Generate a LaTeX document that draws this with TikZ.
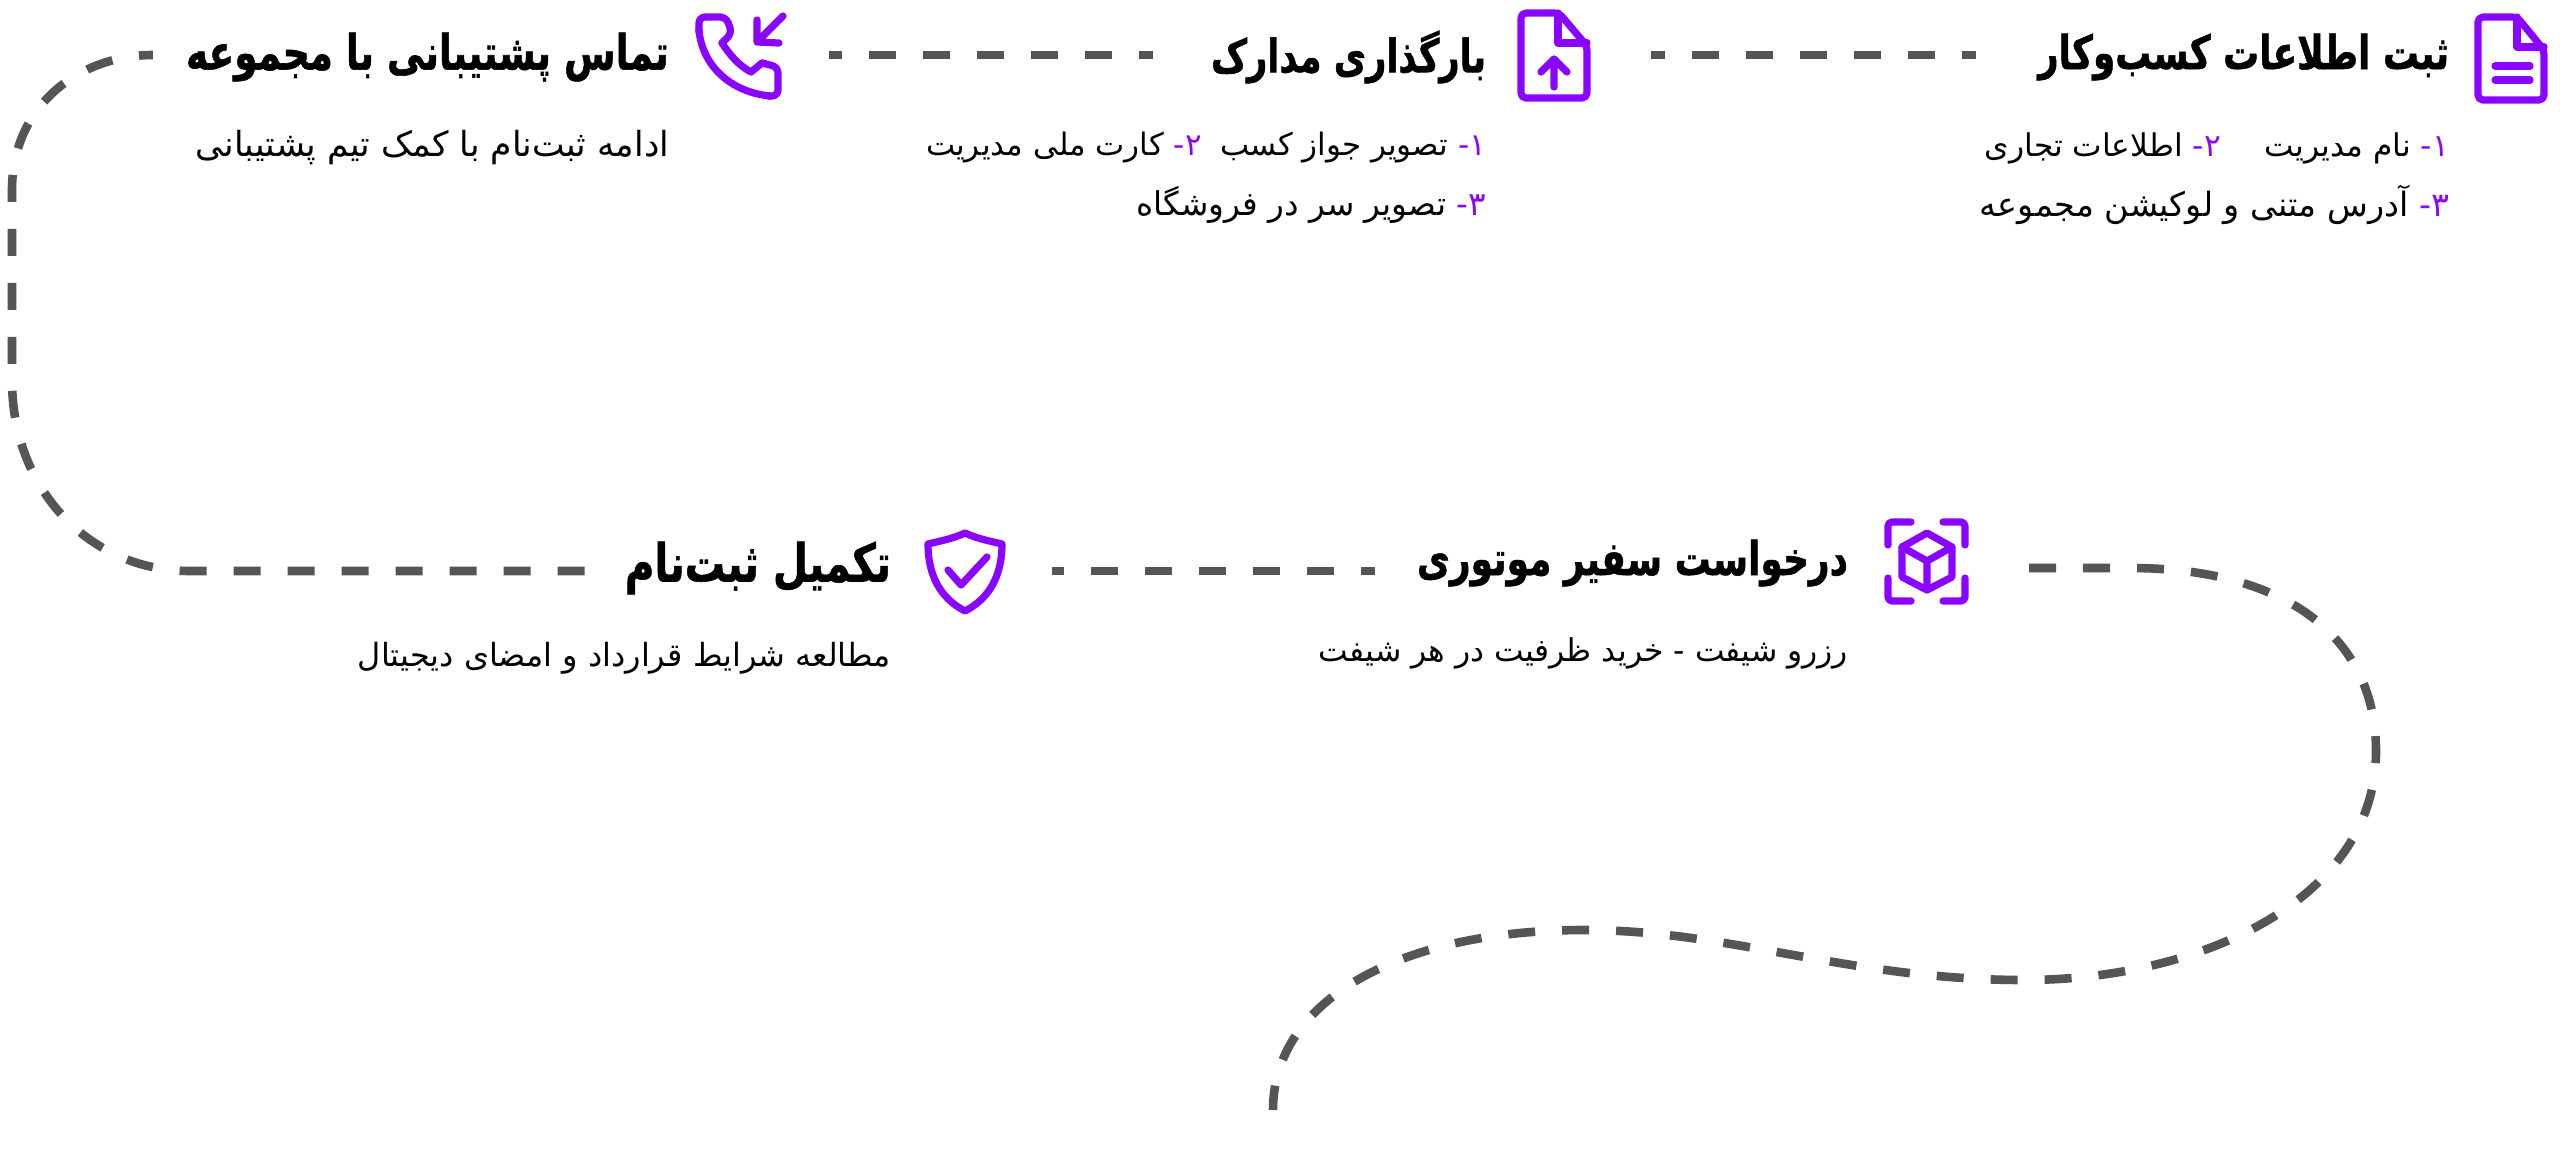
\documentclass[tikz,border=0pt]{standalone}
\usepackage{fontspec}
\usepackage{graphicx}
\setmainfont{DejaVu Sans}
\newfontfamily\fareg[Script=Arabic]{DejaVu Sans}
\newfontfamily\fabold[Script=Arabic,FakeBold=1.2]{DejaVu Sans Bold}
\TeXXeTstate=1
\definecolor{vio}{HTML}{8A05FF}
\definecolor{dashgrey}{HTML}{555555}
% inside \beginR ... \endR the node order is reversed, so the colour specials are written swapped
\newcommand{\vionum}[1]{\special{color pop}#1\special{color push rgb 0.541 0.02 1}}
\tikzset{
  steptext/.style={anchor=east,inner sep=0pt,outer sep=0pt,text=black},
  iconspot/.style={inner sep=0pt,outer sep=0pt,minimum width=#1,minimum height=45pt},
  dashline/.style={draw=dashgrey,line width=4.3pt,dash pattern=on 13.5pt off 13.5pt},
  shortstart/.style={dash phase=6.5pt},
  iconline/.style={draw=vio,line width=3.6pt,line cap=round,line join=round}
}
\begin{document}
\begin{tikzpicture}[x=0.5pt,y=-0.5pt]
\useasboundingbox (0,0) rectangle (2560,1158);
\fill[white] (0,0) rectangle (2560,1158);
% titles and sublines
\node[steptext] (t1) at (2449,57) {\resizebox{205.5pt}{!}{\scalebox{1}[1.3]{\fabold\beginR ثبت اطلاعات کسب‌وکار\endR}}};
\node[steptext] (s1a) at (2449,148) {\resizebox{232pt}{!}{\fareg\beginR\vionum{۱-} نام مدیریت\hspace{1.4em}\vionum{۲-} اطلاعات تجاری\endR}};
\node[steptext] (s1b) at (2449,205) {\resizebox{234.5pt}{!}{\fareg\beginR\vionum{۳-} آدرس متنی و لوکیشن مجموعه\endR}};
\node[steptext] (t2) at (1486,57) {\resizebox{137.5pt}{!}{\scalebox{1}[1.3]{\fabold\beginR بارگذاری مدارک\endR}}};
\node[steptext] (s2a) at (1486,148) {\resizebox{280pt}{!}{\fareg\beginR\vionum{۱-} تصویر جواز کسب\hspace{0.6em}\vionum{۲-} کارت ملی مدیریت\endR}};
\node[steptext] (s2b) at (1486,205) {\resizebox{175pt}{!}{\fareg\beginR\vionum{۳-} تصویر سر در فروشگاه\endR}};
\node[steptext] (t3) at (669,57) {\resizebox{241.5pt}{!}{\scalebox{1}[1.3]{\fabold\beginR تماس پشتیبانی با مجموعه\endR}}};
\node[steptext] (s3) at (669,148) {\resizebox{236.5pt}{!}{\fareg\beginR ادامه ثبت‌نام با کمک تیم پشتیبانی\endR}};
\node[steptext] (t4) at (1848,563) {\resizebox{215.5pt}{!}{\scalebox{1}[1.3]{\fabold\beginR درخواست سفیر موتوری\endR}}};
\node[steptext] (s4) at (1848,653) {\resizebox{264.5pt}{!}{\fareg\beginR رزرو شیفت - خرید ظرفیت در هر شیفت\endR}};
\node[steptext] (t5) at (891,568) {\resizebox{133pt}{!}{\scalebox{1}[1.3]{\fabold\beginR تکمیل ثبت‌نام\endR}}};
\node[steptext] (s5) at (891,658) {\resizebox{266.5pt}{!}{\fareg\beginR مطالعه شرایط قرارداد و امضای دیجیتال\endR}};
% icon anchors
\node[iconspot=36pt] (ic1) at (2511,55) {};
\node[iconspot=36pt] (ic2) at (1554,55) {};
\node[iconspot=44pt] (ic3) at (741,55) {};
\node[iconspot=42pt] (ic4) at (1927,562) {};
\node[iconspot=42pt] (ic5) at (965,571) {};
% document icon
\draw[iconline,rounded corners=2.5pt] (2517,17) -- (2478,17) -- (2478,100) -- (2544,100) -- (2544,50) -- cycle;
\draw[iconline] (2517,17) -- (2517,47) -- (2544,47);
\draw[iconline] (2495,66) -- (2530,66) (2495,80) -- (2530,80);
% upload icon
\draw[iconline,rounded corners=2.5pt] (1559,13) -- (1521,13) -- (1521,98) -- (1587,98) -- (1587,46) -- cycle;
\draw[iconline] (1558,13) -- (1558,43) -- (1587,43);
\draw[iconline] (1554,87) -- (1554,60) (1541,72) -- (1554,59) -- (1567,72);
% phone icon
\draw[iconline,rounded corners=3pt] (699,32) -- (699,17) -- (726,17) -- (732,33) -- (722,43);
\draw[iconline] (722,43) .. controls (730,55) and (738,65) .. (751,72) -- (762,63);
\draw[iconline,rounded corners=3pt] (762,63) -- (778,67) -- (778,96) -- (768,96);
\draw[iconline] (770,96) .. controls (730,92) and (702,65) .. (699,30);
\draw[iconline] (783,16) -- (757,42) (757,20) -- (757,42) -- (779,43);
% cube icon
\draw[iconline,rounded corners=2pt] (1888,545) -- (1888,522) -- (1911,522);
\draw[iconline,rounded corners=2pt] (1943,522) -- (1965,522) -- (1965,545);
\draw[iconline,rounded corners=2pt] (1888,578) -- (1888,601) -- (1911,601);
\draw[iconline,rounded corners=2pt] (1943,601) -- (1965,601) -- (1965,578);
\draw[iconline] (1927,533) -- (1952,547) -- (1952,577) -- (1927,590) -- (1902,577) -- (1902,547) -- cycle;
\draw[iconline] (1902,547) -- (1927,561) -- (1952,547) (1927,561) -- (1927,590);
% shield icon
\draw[iconline] (965,533) .. controls (952,539) and (940,541) .. (928,544) .. controls (928,575) and (940,598) .. (965,611) .. controls (990,598) and (1002,575) .. (1002,544) .. controls (990,541) and (978,539) .. (965,533) -- cycle;
\draw[iconline] (948,570) -- (961,585) -- (987,557);
% connectors
\draw[dashline,shortstart,shorten <=31pt,shorten >=30.5pt] (t1.west |- ic1.west) -- (ic2.east);
\draw[dashline,shortstart,shorten <=29pt,shorten >=22pt] (t2.west |- ic2.west) -- (ic3.east);
\draw[dashline,shortstart,shorten <=16.5pt,shorten >=18.5pt] (t3.west |- ic3.west) .. controls (80,55) and (12,105) .. (12,190) -- (12,380) .. controls (12,490) and (90,571) .. (190,571) -- (t5.west |- ic5.west);
\draw[dashline,shortstart,shorten <=21pt,shorten >=22.5pt] (t4.west |- ic5.east) -- (ic5.east);
\coordinate (tailend) at (1273,1110);
\draw[dashline,shorten <=30pt] ([yshift=-3pt]ic4.east) -- (2130,568) .. controls (2290,568) and (2376,640) .. (2376,751) .. controls (2376,900) and (2200,980) .. (2024,980) .. controls (1850,980) and (1730,930) .. (1584,930) .. controls (1400,930) and (1273,1000) .. (tailend);
\end{tikzpicture}
\end{document}
